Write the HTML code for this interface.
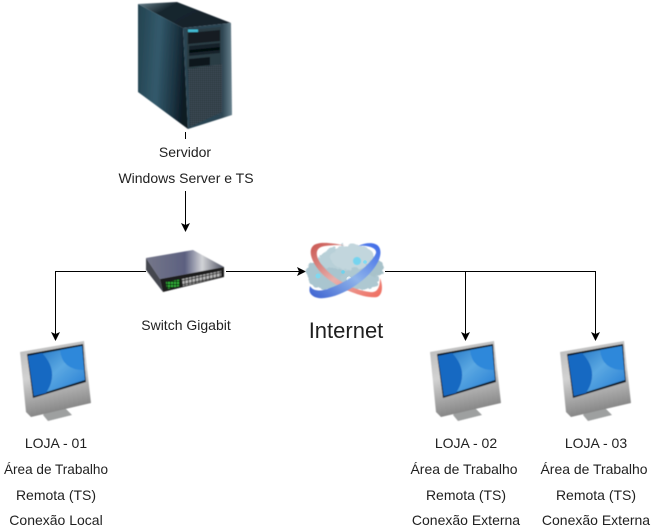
<!DOCTYPE html>
<html><head><meta charset="utf-8"><style>
html,body{margin:0;padding:0;background:#fff}
svg{display:block}
text{font-family:"Liberation Sans",Arial,sans-serif;font-size:14px;fill:#1f1f1f;text-anchor:middle}
</style></head><body>
<svg width="651" height="532" viewBox="0 0 651 532" xmlns="http://www.w3.org/2000/svg">
<defs>
<linearGradient id="sl" x1="0" y1="0" x2="1" y2="0.15"><stop offset="0" stop-color="#23424f"/><stop offset=".45" stop-color="#335a6c"/><stop offset=".8" stop-color="#1c3442"/><stop offset="1" stop-color="#0b1a24"/></linearGradient>
<linearGradient id="st" x1="0" y1="0" x2="1" y2="0.5"><stop offset="0" stop-color="#6a8490"/><stop offset=".35" stop-color="#18272f"/><stop offset="1" stop-color="#14212a"/></linearGradient>
<linearGradient id="sf" x1="0" y1="0" x2="1" y2="0"><stop offset="0" stop-color="#2a4552"/><stop offset=".8" stop-color="#2d4552"/><stop offset="1" stop-color="#6b8490"/></linearGradient>
<pattern id="mesh" width="2" height="2" patternUnits="userSpaceOnUse"><rect width="2" height="2" fill="#3c4c55"/><rect width="1" height="1" fill="#0f171c"/></pattern>
<pattern id="ports" width="3.500" height="4" patternUnits="userSpaceOnUse" patternTransform="skewY(-12)"><rect width="3.500" height="4" fill="#2b2b2b"/><rect width="2.600" height="3" fill="#b9b9b9"/></pattern>
<pattern id="leds" width="3" height="3" patternUnits="userSpaceOnUse"><rect width="3" height="3" fill="#0c2a0e"/><rect width="2" height="2" fill="#36b43a"/></pattern>
<linearGradient id="swt" x1="0" y1="0" x2="1" y2="0"><stop offset="0" stop-color="#75778a"/><stop offset=".5" stop-color="#5c6080"/><stop offset=".72" stop-color="#d2d3d7"/><stop offset="1" stop-color="#4e5262"/></linearGradient>
<linearGradient id="scr" x1="0" y1="0" x2="1" y2="1"><stop offset="0" stop-color="#1367bd"/><stop offset=".5" stop-color="#5ba8e2"/><stop offset="1" stop-color="#1f78d2"/></linearGradient>
<linearGradient id="mon" x1="0" y1="0" x2="0.2" y2="1"><stop offset="0" stop-color="#b9b9b9"/><stop offset=".5" stop-color="#d2d2d2"/><stop offset="1" stop-color="#858585"/></linearGradient>
<linearGradient id="red" x1="0" y1="0" x2="1" y2="1"><stop offset="0" stop-color="#c9544f"/><stop offset=".5" stop-color="#e8b0ac"/><stop offset="1" stop-color="#f06a5c"/></linearGradient>
<linearGradient id="blu" x1="0" y1="1" x2="1" y2="0"><stop offset="0" stop-color="#3a5fd0"/><stop offset=".5" stop-color="#8fb4ea"/><stop offset="1" stop-color="#3a66e8"/></linearGradient>
<filter id="b1"><feGaussianBlur stdDeviation=".4"/></filter>
<filter id="rough" x="-10%" y="-10%" width="120%" height="120%"><feTurbulence type="fractalNoise" baseFrequency=".18" numOctaves="3" seed="4"/><feDisplacementMap in="SourceGraphic" scale="6"/><feGaussianBlur stdDeviation=".5"/></filter>
<symbol id="monitor" overflow="visible">
<g filter="url(#b1)">
<polygon points="43,415 50,407 64,407 72,415 48,421" fill="#9ea0a0"/>
<polygon points="20,352 84,341 91,403 31,417 26,412" fill="url(#mon)"/>
<polygon points="27,354 83,344 86,382 33,398" fill="#0a1420"/>
<polygon points="28,356 82,346 85,380 34,396" fill="url(#scr)"/>
<path d="M42,353 Q60,372 46,393 L34,396 L28,356Z" fill="#1569c2"/>
<path d="M60,350 Q62,370 84,370 L82,346Z" fill="#2e88da"/>
</g>
</symbol>
</defs>

<!-- server -->
<g filter="url(#b1)">
<polygon points="138,4 177,2 231,23 183,28" fill="url(#st)"/>
<polygon points="138,4 183,28 188,129 138,92" fill="url(#sl)"/>
<polygon points="183,28 231,23 232,115 188,129" fill="url(#sf)"/>
<polygon points="187,30 221,27 221,65 187,69" fill="#2b3c45"/>
<polygon points="188,33 220,30 220,41 188,44" fill="#121c22"/>
<polygon points="189,46 220,43 220,53 189,56" fill="#18242b"/>
<polygon points="189,50 220,47 220,50 189,53" fill="#05090c"/>
<polygon points="189,59 210,57 210,65 189,67" fill="#10191f"/>
<polygon points="188,69 222,64 222,112 190,127" fill="url(#mesh)"/>
<rect x="188" y="29.500" width="10" height="2.500" fill="#43bdd6"/>
</g>
<line x1="185.500" y1="132" x2="185.500" y2="139" stroke="#000"/>
<text x="185" y="157">Servidor</text>
<text x="186" y="183">Windows Server e TS</text>

<!-- connectors -->
<g stroke="#000" fill="none" stroke-width="1">
<path d="M185.500,191 V226"/>
<path d="M146,271.500 H55.500 V335"/>
<path d="M226,271.500 H299"/>
<path d="M385,271.500 H465.500 V335"/>
<path d="M465,271.500 H595.500 V335"/>
</g>
<g fill="#000">
<polygon points="185.500,232 181,223 185.500,225 190,223"/>
<polygon points="55.500,341 51,332 55.500,334 60,332"/>
<polygon points="306,271.500 297,267 299,271.500 297,276"/>
<polygon points="465.500,341 461,332 465.500,334 470,332"/>
<polygon points="595.500,341 591,332 595.500,334 600,332"/>
</g>

<!-- switch -->
<g filter="url(#b1)">
<polygon points="146,258 193,250 224,267 160,279" fill="url(#swt)"/>
<polygon points="146,258 160,279 163,292 146,270" fill="#45464f"/>
<polygon points="160,279 224,267 224,277 163,292" fill="#1a1a1c"/>
<polygon points="166,282 180,279.500 180,286 167,289" fill="url(#leds)"/>
<polygon points="182,279 221,271 221,277 183,286" fill="url(#ports)"/>
</g>
<text x="186" y="330">Switch Gigabit</text>

<!-- cloud -->
<g>
<g filter="url(#rough)" fill="#b8d0d8">
<ellipse cx="347" cy="266" rx="31" ry="20"/>
<ellipse cx="352" cy="257" rx="22" ry="13" fill="#c2d6dd"/>
<ellipse cx="330" cy="279" rx="22" ry="11" fill="#a9c5cf"/>
<ellipse cx="360" cy="279" rx="19" ry="11" fill="#aec8d1"/>
<ellipse cx="375" cy="268" rx="9" ry="9" fill="#a8c2ca"/>
<ellipse cx="316" cy="272" rx="10" ry="9" fill="#a9c5cf"/>
</g>
<circle cx="357" cy="261" r="4" fill="#63d4f4" opacity=".8" filter="url(#b1)"/>
<circle cx="365" cy="262" r="1.800" fill="#7fdcf4"/>
<circle cx="343" cy="272" r="1.800" fill="#6fd2ec"/>
<circle cx="349" cy="279" r="2.500" fill="#eaf4f7"/>
<circle cx="318" cy="276" r="2.500" fill="#7fd8ef"/>
<path d="M345,245.500 C332,243 318,241 313,246 C306,253 316,270 328,279 C342,290 366,299 377,297 C383,295 383,285 380,278 C380,288 377,293 370,292 C352,290 332,278 321,264 C314,254 316,247 325,246 C332,245 340,245 345,245.500Z" fill="url(#red)" filter="url(#b1)"/>
<path d="M358,246 C366,242 376,242 379,247 C385,257 372,276 350,289 C336,297 320,301 313,296 C309,293 309,290 310,286 C313,291 320,292 330,288 C350,281 372,264 376,253 C377,248 368,245 358,246Z" fill="url(#blu)" filter="url(#b1)"/>
</g>
<text x="346" y="338" style="font-size:22px">Internet</text>

<!-- monitors -->
<use href="#monitor"/>
<use href="#monitor" x="410"/>
<use href="#monitor" x="540"/>

<text x="56" y="448">LOJA - 01</text>
<text x="56" y="474" textLength="104" lengthAdjust="spacingAndGlyphs">Área de Trabalho</text>
<text x="56" y="500">Remota (TS)</text>
<text x="56" y="525">Conexão Local</text>

<text x="466" y="448">LOJA - 02</text>
<text x="464" y="474" textLength="107" lengthAdjust="spacingAndGlyphs">Área de Trabalho</text>
<text x="466" y="500">Remota (TS)</text>
<text x="466" y="525">Conexão Externa</text>

<text x="596" y="448">LOJA - 03</text>
<text x="594" y="474" textLength="107" lengthAdjust="spacingAndGlyphs">Área de Trabalho</text>
<text x="596" y="500">Remota (TS)</text>
<text x="596" y="525">Conexão Externa</text>
</svg>
</body></html>
